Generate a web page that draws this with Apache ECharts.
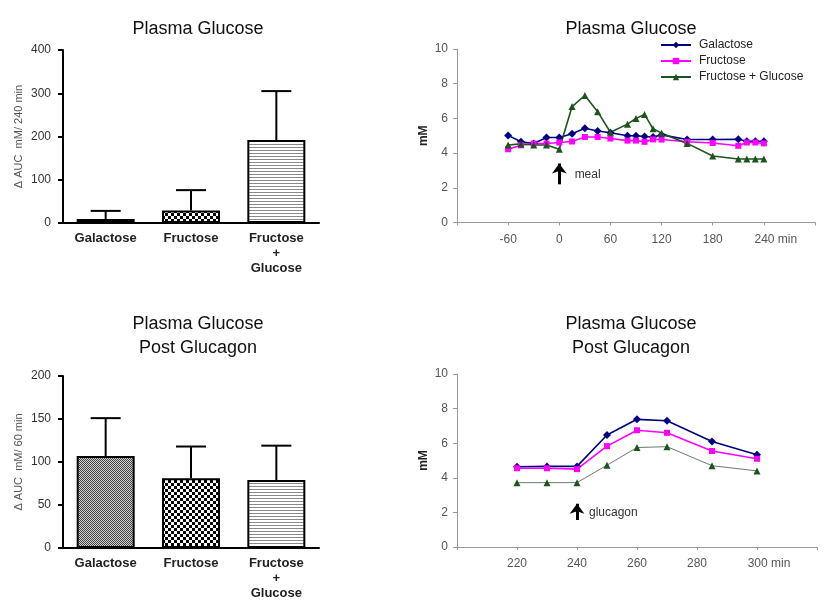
<!DOCTYPE html>
<html>
<head>
<meta charset="utf-8">
<script src="https://cdn.jsdelivr.net/npm/echarts@6/dist/echarts.min.js"></script>
<style>html,body{margin:0;padding:0;background:#fff;}#c{width:834px;height:612px;}</style>
</head>
<body>
<div id="c"></div>
<script>
// ---------- data ----------
const barCategories = ['Galactose', 'Fructose', 'Fructose\n+\nGlucose'];
const auc240Mean = [9, 29, 192];
const auc240Sem = [19, 47, 113];
const auc60Mean = [107, 81, 79];
const auc60Sem = [44, 37, 40];

const seriesNames = ['Galactose', 'Fructose', 'Fructose + Glucose'];

const mealTimes = [-60, -45, -30, -15, 0, 15, 30, 45, 60, 80, 90, 100, 110, 120, 150, 180, 210, 220, 230, 240];
const mealGalactose = [5.02, 4.65, 4.55, 4.9, 4.9, 5.12, 5.43, 5.27, 5.17, 5.0, 5.0, 4.96, 4.93, 5.05, 4.78, 4.78, 4.8, 4.68, 4.68, 4.68];
const mealFructose = [4.22, 4.45, 4.55, 4.55, 4.61, 4.67, 4.93, 4.93, 4.84, 4.72, 4.72, 4.65, 4.79, 4.78, 4.65, 4.58, 4.42, 4.61, 4.61, 4.56];
const mealFructGluc = [4.47, 4.53, 4.47, 4.47, 4.22, 6.68, 7.32, 6.39, 5.2, 5.67, 6.0, 6.23, 5.4, 5.15, 4.56, 3.83, 3.66, 3.66, 3.66, 3.66];
const mealTickLabels = [-60, 0, 60, 120, 180, 240];

const glucTimes = [220, 230, 240, 250, 260, 270, 285, 300];
const glucGalactose = [4.64, 4.66, 4.66, 6.47, 7.38, 7.3, 6.1, 5.33];
const glucFructose = [4.55, 4.55, 4.5, 5.83, 6.75, 6.6, 5.55, 5.1];
const glucFructGluc = [3.72, 3.72, 3.72, 4.73, 5.75, 5.8, 4.7, 4.4];
const glucTickLabels = [220, 240, 260, 280, 300];

const mealArrow = [[0, 2.2], [0, 3.4]];
const mealText = [18, 2.77];
const glucArrow = [[240, 1.56], [240, 2.5]];
const glucText = [244, 1.97];

// ---------- patterns ----------
function pattern(kind) {
  const c = document.createElement('canvas');
  const g = c.getContext('2d');
  if (kind === 'fine') {
    c.width = 2; c.height = 2;
    g.fillStyle = '#d0d0d0'; g.fillRect(0, 0, 2, 2);
    g.fillStyle = '#444'; g.fillRect(0, 0, 1, 1); g.fillRect(1, 1, 1, 1);
  } else if (kind === 'checker') {
    c.width = 6; c.height = 6;
    g.fillStyle = '#fff'; g.fillRect(0, 0, 6, 6);
    g.fillStyle = '#000'; g.fillRect(0, 0, 3, 3); g.fillRect(3, 3, 3, 3);
  } else {
    c.width = 4; c.height = 3;
    g.fillStyle = '#fff'; g.fillRect(0, 0, 4, 3);
    g.fillStyle = '#8a8a8a'; g.fillRect(0, 0, 4, 1);
  }
  return { image: c, repeat: 'repeat' };
}
const barFills = [pattern('fine'), pattern('checker'), pattern('stripes')];

const FONT = 'Liberation Sans, Arial, sans-serif';
const chart = echarts.init(document.getElementById('c'), null, { renderer: 'canvas' });

function errRender(params, api) {
  const x = api.value(0), mean = api.value(1), top = api.value(2);
  const p0 = api.coord([x, mean]);
  const p1 = api.coord([x, top]);
  const hw = 15;
  return {
    type: 'group',
    children: [
      { type: 'line', shape: { x1: p0[0], y1: p0[1], x2: p1[0], y2: p1[1] }, style: { stroke: '#000', lineWidth: 2 } },
      { type: 'line', shape: { x1: p1[0] - hw, y1: p1[1], x2: p1[0] + hw, y2: p1[1] }, style: { stroke: '#000', lineWidth: 2 } }
    ]
  };
}

function barCatAxis(gi) {
  return {
    type: 'category', gridIndex: gi, data: barCategories,
    axisLine: { lineStyle: { color: '#000', width: 2 } },
    axisTick: { show: false },
    axisLabel: { fontFamily: FONT, fontSize: 13, fontWeight: 'bold', color: '#222', lineHeight: 15, margin: 8, interval: 0 }
  };
}
function barValAxis(gi, max, interval, name) {
  return {
    type: 'value', gridIndex: gi, min: 0, max: max, interval: interval,
    name: name, nameLocation: 'middle', nameGap: 39,
    nameTextStyle: { fontFamily: FONT, fontSize: 11, color: '#555' },
    axisLine: { show: true, onZero: false, lineStyle: { color: '#000', width: 2 } },
    axisTick: { show: true, length: 5, lineStyle: { color: '#000', width: 2 } },
    axisLabel: { fontFamily: FONT, fontSize: 12, color: '#333', margin: 12 },
    splitLine: { show: false }
  };
}
function timeAxis(gi, min, max, interval, shown, last) {
  return {
    type: 'value', gridIndex: gi, min: min, max: max, interval: interval,
    axisLine: { onZero: false, lineStyle: { color: '#999', width: 1 } },
    axisTick: { show: true, length: 3, lineStyle: { color: '#999' } },
    axisLabel: {
      fontFamily: FONT, fontSize: 12, color: '#555', margin: 11,
      formatter: function (v) {
        if (shown.indexOf(v) < 0) return '';
        if (v === last) return '{p|}' + v + ' min';
        return String(v);
      },
      rich: { p: { width: 24 } }
    },
    splitLine: { show: false }
  };
}
function mMAxis(gi) {
  return {
    type: 'value', gridIndex: gi, min: 0, max: 10, interval: 2,
    name: 'mM', nameLocation: 'middle', nameGap: 27,
    nameTextStyle: { fontFamily: FONT, fontSize: 12, fontWeight: 'bold', color: '#222' },
    axisLine: { show: true, onZero: false, lineStyle: { color: '#999', width: 1 } },
    axisTick: { show: true, length: 4, lineStyle: { color: '#999' } },
    axisLabel: { fontFamily: FONT, fontSize: 12, color: '#555', margin: 9 },
    splitLine: { show: false }
  };
}
function zip(xs, ys) { return xs.map((x, i) => [x, ys[i]]); }

const lineStyles = [
  { color: '#000080', symbol: 'diamond', size: 8, width: 1.6 },
  { color: '#ff00ff', symbol: 'rect', size: 6, width: 1.6 },
  { color: '#1d531d', symbol: 'triangle', size: 7, width: 1.5 }
];
function lineSeries(idx, gi, data, extra, lineColor, lineWidth) {
  const s = lineStyles[idx];
  return Object.assign({
    name: seriesNames[idx], type: 'line', xAxisIndex: gi, yAxisIndex: gi,
    data: data, symbol: s.symbol, symbolSize: s.size, showSymbol: true,
    itemStyle: { color: s.color },
    lineStyle: { color: lineColor || s.color, width: lineWidth || s.width },
    animation: false
  }, extra || {});
}
function arrowMark(arrow, text, label) {
  return {
    markLine: {
      silent: true, symbol: ['none', 'arrow'], symbolSize: [11, 10],
      lineStyle: { color: '#000', width: 3, type: 'solid' },
      label: { show: false },
      data: [[{ coord: arrow[0] }, { coord: arrow[1] }]]
    },
    markPoint: {
      silent: true, symbol: 'circle', symbolSize: 1,
      itemStyle: { color: 'rgba(0,0,0,0)' },
      label: { show: true, position: 'inside', align: 'left', verticalAlign: 'middle', formatter: label, fontFamily: FONT, fontSize: 12, color: '#333' },
      data: [{ coord: text }]
    }
  };
}

const titleStyle = { fontFamily: FONT, fontSize: 18, fontWeight: 'normal', color: '#111', lineHeight: 24 };
const option = {
  backgroundColor: '#fff',
  animation: false,
  textStyle: { fontFamily: FONT },
  title: [
    { text: 'Plasma Glucose', left: 198, top: 17, padding: 0, textAlign: 'center', textStyle: titleStyle },
    { text: 'Plasma Glucose', left: 631, top: 17, padding: 0, textAlign: 'center', textStyle: titleStyle },
    { text: 'Plasma Glucose\nPost Glucagon', left: 198, top: 312, padding: 0, textAlign: 'center', textStyle: titleStyle },
    { text: 'Plasma Glucose\nPost Glucagon', left: 631, top: 312, padding: 0, textAlign: 'center', textStyle: titleStyle }
  ],
  legend: {
    data: seriesNames, orient: 'vertical', left: 660, top: 39, itemGap: 4,
    itemWidth: 30, itemHeight: 8, padding: 0,
    textStyle: { fontFamily: FONT, fontSize: 12, color: '#222', padding: [0, 0, 0, 3] }
  },
  grid: [
    { left: 63, top: 50, width: 256, height: 173 },
    { left: 457, top: 49, width: 358, height: 173.5 },
    { left: 63, top: 376, width: 256, height: 172 },
    { left: 457, top: 374, width: 360, height: 173 }
  ],
  xAxis: [
    barCatAxis(0),
    timeAxis(1, -120, 300, 60, mealTickLabels, 240),
    barCatAxis(2),
    timeAxis(3, 200, 320, 20, glucTickLabels, 300)
  ],
  yAxis: [
    barValAxis(0, 400, 100, '\u0394 AUC  mM/ 240 min'),
    mMAxis(1),
    barValAxis(2, 200, 50, '\u0394 AUC  mM/ 60 min'),
    mMAxis(3)
  ],
  series: [
    {
      type: 'bar', xAxisIndex: 0, yAxisIndex: 0, barWidth: 58,
      data: auc240Mean.map((v, i) => ({ value: v, itemStyle: { color: barFills[i] } })),
      itemStyle: { borderColor: '#000', borderWidth: 2 }
    },
    {
      type: 'custom', xAxisIndex: 0, yAxisIndex: 0, renderItem: errRender, z: 3,
      encode: { x: 0, y: [1, 2] },
      data: auc240Mean.map((v, i) => [i, v, v + auc240Sem[i]])
    },
    {
      type: 'bar', xAxisIndex: 2, yAxisIndex: 2, barWidth: 58,
      data: auc60Mean.map((v, i) => ({ value: v, itemStyle: { color: barFills[i] } })),
      itemStyle: { borderColor: '#000', borderWidth: 2 }
    },
    {
      type: 'custom', xAxisIndex: 2, yAxisIndex: 2, renderItem: errRender, z: 3,
      encode: { x: 0, y: [1, 2] },
      data: auc60Mean.map((v, i) => [i, v, v + auc60Sem[i]])
    },
    lineSeries(0, 1, zip(mealTimes, mealGalactose), arrowMark(mealArrow, mealText, 'meal')),
    lineSeries(1, 1, zip(mealTimes, mealFructose)),
    lineSeries(2, 1, zip(mealTimes, mealFructGluc), null, '#1d531d', 1.6),
    lineSeries(0, 3, zip(glucTimes, glucGalactose), arrowMark(glucArrow, glucText, 'glucagon')),
    lineSeries(1, 3, zip(glucTimes, glucFructose)),
    lineSeries(2, 3, zip(glucTimes, glucFructGluc), null, '#6f7a6f', 1)
  ]
};
chart.setOption(option);
</script>
</body>
</html>
